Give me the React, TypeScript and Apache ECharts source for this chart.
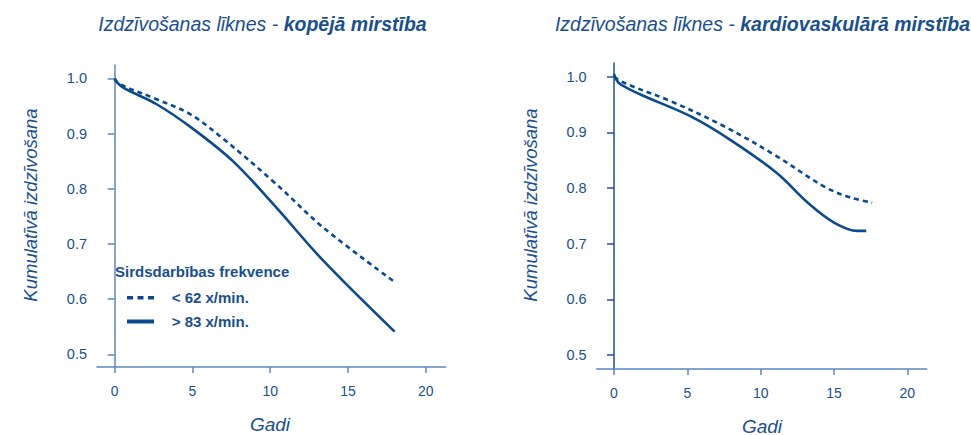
import React, { useEffect, useRef } from "react";
import * as echarts from "echarts";

// ---- data ----
const xTicks = [0, 5, 10, 15, 20];
const yTicks = [0.5, 0.6, 0.7, 0.8, 0.9, 1.0];

const seriesNames = ["< 62 x/min.", "> 83 x/min."];

// Left panel: total mortality
const totalLow: [number, number][] = [
  [0, 1.0], [0.3, 0.99], [2.7, 0.962], [4.85, 0.935], [7.0, 0.89],
  [10.4, 0.808], [13.4, 0.73], [18.0, 0.631],
];
const totalHigh: [number, number][] = [
  [0, 0.997], [0.55, 0.983], [2.7, 0.953], [5.06, 0.908], [7.6, 0.85],
  [10.2, 0.772], [13.4, 0.67], [18.0, 0.541],
];

// Right panel: cardiovascular mortality
const cvLow: [number, number][] = [
  [0, 1.0], [0.68, 0.989], [3.86, 0.956], [7.5, 0.911], [11.1, 0.857],
  [14.3, 0.803], [16.1, 0.783], [17.6, 0.774],
];
const cvHigh: [number, number][] = [
  [0, 1.005], [0.15, 0.995], [0.46, 0.986], [1.8, 0.968], [5.2, 0.929],
  [7.9, 0.887], [11.1, 0.827], [13.2, 0.774], [15.0, 0.738], [16.6, 0.723],
  [17.2, 0.723],
];

const titleLeft = ["Izdzīvošanas līknes - ", "kopējā mirstība"];
const titleRight = ["Izdzīvošanas līknes - ", "kardiovaskulārā mirstība"];
const yName = "Kumulatīvā izdzīvošana";
const xName = "Gadi";
const legendTitle = "Sirdsdarbības frekvence";

const LINE = "#0b4a8f";
const TEXT = "#1a4f8e";
const FONT = "'Liberation Sans', Arial, sans-serif";

function makeX(idx: number, min: number, max: number, color: string) {
  return {
    type: "value",
    gridIndex: idx,
    min,
    max,
    axisLine: { show: true, lineStyle: { color, width: 1.5 } },
    axisTick: { show: true, customValues: xTicks, length: 6, lineStyle: { color, width: 1.5 } },
    axisLabel: {
      customValues: xTicks,
      margin: 17,
      color: TEXT,
      fontSize: 14,
      fontFamily: FONT,
    },
    splitLine: { show: false },
  };
}

function makeY(idx: number, min: number, max: number, color: string) {
  return {
    type: "value",
    gridIndex: idx,
    min,
    max,
    axisLine: { show: true, lineStyle: { color, width: 1.5 } },
    axisTick: { show: true, customValues: yTicks, length: 7, lineStyle: { color, width: 1.5 } },
    axisLabel: {
      customValues: yTicks,
      margin: 10,
      color: TEXT,
      fontSize: 14.5,
      fontFamily: FONT,
      formatter: (v: number) => v.toFixed(1),
    },
    splitLine: { show: false },
  };
}

function line(name: string, data: [number, number][], idx: number, dashed: boolean) {
  return {
    type: "line",
    name,
    xAxisIndex: idx,
    yAxisIndex: idx,
    data,
    symbol: "none",
    smooth: 0.35,
    lineStyle: { color: LINE, width: 2.6, type: dashed ? [5, 4] : "solid" },
    itemStyle: { color: LINE },
  };
}

function titleText(x: number, parts: string[]) {
  return {
    type: "text",
    x,
    y: 24,
    style: {
      text: `{a|${parts[0]}}{b|${parts[1]}}`,
      align: "center",
      verticalAlign: "middle",
      rich: {
        a: { fontSize: 19.5, fontStyle: "italic", fontFamily: FONT, fill: TEXT },
        b: { fontSize: 19.5, fontStyle: "italic", fontWeight: "bold", fontFamily: FONT, fill: TEXT },
      },
    },
  };
}

function plainText(x: number, y: number, text: string, extra: any = {}) {
  return {
    type: "text",
    x,
    y,
    rotation: extra.rotation || 0,
    style: {
      text,
      align: extra.align || "center",
      verticalAlign: "middle",
      fontSize: extra.fontSize || 19,
      fontStyle: extra.fontStyle || "italic",
      fontWeight: extra.fontWeight || "normal",
      fontFamily: FONT,
      fill: TEXT,
    },
  };
}

function legendLine(y: number, dashed: boolean) {
  return {
    type: "line",
    shape: { x1: 127, y1: y, x2: 154, y2: y },
    style: {
      stroke: LINE,
      lineWidth: dashed ? 3.5 : 4,
      lineDash: dashed ? [6, 4.5] : null,
    },
  };
}

const legendBold = { align: "left", fontSize: 15, fontStyle: "normal", fontWeight: "bold" };

export default function App() {
  const ref = useRef<HTMLDivElement>(null);
  useEffect(() => {
    if (!ref.current) return;
    const chart = echarts.init(ref.current, undefined, { renderer: "svg" });
    chart.setOption({
      animation: false,
      backgroundColor: "#ffffff",
      grid: [
        { left: 97, top: 65, width: 348.6, height: 302, outerBoundsMode: "none", containLabel: false },
        { left: 596.7, top: 63, width: 330, height: 306, outerBoundsMode: "none", containLabel: false },
      ],
      xAxis: [
        makeX(0, -1.138, 21.28, "#5f88bf"),
        makeX(1, -1.18, 21.32, "#5a86be"),
      ],
      yAxis: [
        makeY(0, 0.477, 1.0241, "#5f88bf"),
        makeY(1, 0.4748, 1.0246, "#1f5295"),
      ],
      graphic: [
        titleText(262.5, titleLeft),
        titleText(762.5, titleRight),
        plainText(30, 205, yName, { rotation: Math.PI / 2, fontSize: 18.5 }),
        plainText(530, 205, yName, { rotation: Math.PI / 2, fontSize: 18.5 }),
        plainText(270, 424, xName),
        plainText(762, 426, xName),
        plainText(115, 271.5, legendTitle, legendBold),
        legendLine(297.7, true),
        legendLine(321.5, false),
        plainText(171.7, 297.7, seriesNames[0], legendBold),
        plainText(171.7, 321.7, seriesNames[1], legendBold),
      ],
      series: [
        line(seriesNames[0], totalLow, 0, true),
        line(seriesNames[1], totalHigh, 0, false),
        line(seriesNames[0], cvLow, 1, true),
        line(seriesNames[1], cvHigh, 1, false),
      ],
    });
    return () => chart.dispose();
  }, []);
  return (
    <div
      ref={ref}
      style={{ position: "absolute", left: 0, top: 0, width: 971, height: 435 }}
    />
  );
}
